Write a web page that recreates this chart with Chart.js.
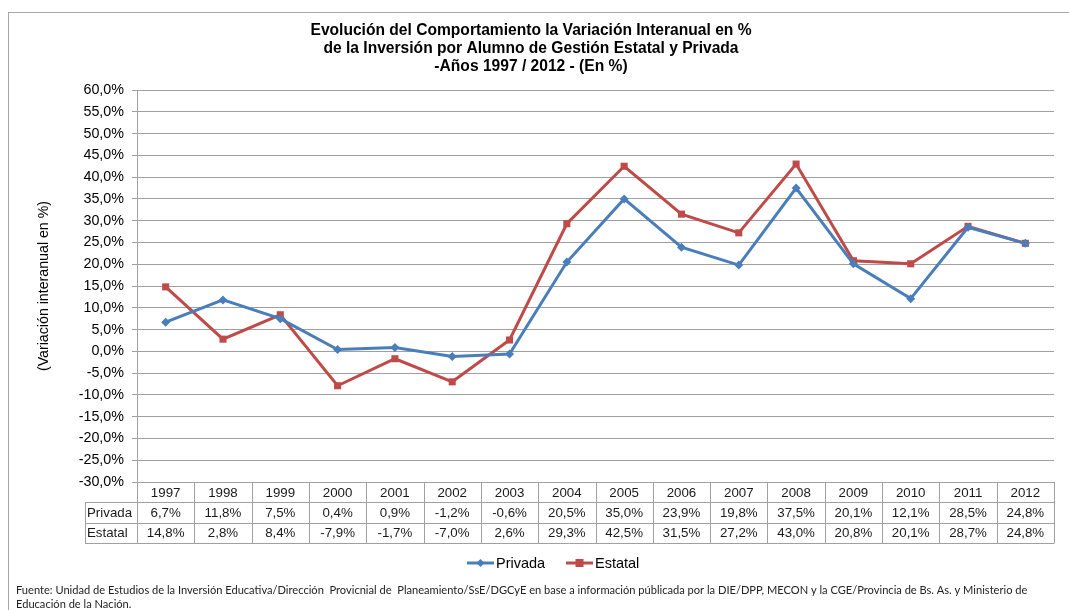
<!DOCTYPE html>
<html>
<head>
<meta charset="utf-8">
<script src="https://cdn.jsdelivr.net/npm/chart.js@4/dist/chart.umd.min.js"></script>
<style>
  html, body { margin: 0; padding: 0; background: #fff; }
  #wrap { position: absolute; left: 0; top: 0; width: 1069px; height: 610px; }
  #frame { position: absolute; left: 8px; top: 12px; width: 1080px; height: 620px; border: 1px solid #a6a6a6; box-sizing: border-box; }
</style>
</head>
<body>
<div id="wrap">
  <div id="frame"></div>
  <canvas id="c" width="1069" height="610" style="position:absolute;left:0;top:0;"></canvas>
</div>
<script>
const years = ['1997','1998','1999','2000','2001','2002','2003','2004','2005','2006','2007','2008','2009','2010','2011','2012'];
const privada = [6.7, 11.8, 7.5, 0.4, 0.9, -1.2, -0.6, 20.5, 35.0, 23.9, 19.8, 37.5, 20.1, 12.1, 28.5, 24.8];
const estatal = [14.8, 2.8, 8.4, -7.9, -1.7, -7.0, 2.6, 29.3, 42.5, 31.5, 27.2, 43.0, 20.8, 20.1, 28.7, 24.8];
const seriesNames = ['Privada', 'Estatal'];
const titleLines = [
  'Evolución del Comportamiento la Variación Interanual en %',
  'de la Inversión por Alumno de Gestión Estatal y Privada',
  '-Años 1997 / 2012 - (En %)'
];
const yTitle = '(Variación interanual en %)';
const footLines = [
  'Fuente: Unidad de Estudios de la Inversión Educativa/Dirección  Provicnial de  Planeamiento/SsE/DGCyE en base a información públicada por la DIE/DPP, MECON y la CGE/Provincia de Bs. As. y Ministerio de',
  'Educación de la Nación.'
];

const BLUE = '#4A7EBB';
const RED = '#BE4B48';
const GRID = '#a0a0a0';
const FONT = '"Liberation Sans", Arial, sans-serif';

function fmt(v) { return v.toFixed(1).replace('.', ',') + '%'; }

const tablePlugin = {
  id: 'tablePlugin',
  afterDraw(chart) {
    const ctx = chart.ctx;
    const xs = chart.scales.x;
    const area = chart.chartArea;
    const n = years.length;
    const cw = (area.right - area.left) / n;
    const top = area.bottom;
    const rh = 20.3;
    const labelLeft = 85;
    ctx.save();
    ctx.strokeStyle = GRID;
    ctx.lineWidth = 1;
    const hl = (y, x0) => { ctx.beginPath(); ctx.moveTo(x0, Math.round(y) + 0.5); ctx.lineTo(area.right, Math.round(y) + 0.5); ctx.stroke(); };
    hl(top + rh, labelLeft);
    hl(top + 2 * rh, labelLeft);
    hl(top + 3 * rh, labelLeft);
    for (let i = 0; i <= n; i++) {
      const x = Math.round(area.left + i * cw) + 0.5;
      ctx.beginPath(); ctx.moveTo(x, top); ctx.lineTo(x, Math.round(top + 3 * rh) + 0.5); ctx.stroke();
    }
    ctx.beginPath(); ctx.moveTo(labelLeft + 0.5, Math.round(top + rh)); ctx.lineTo(labelLeft + 0.5, Math.round(top + 3 * rh) + 0.5); ctx.stroke();
    ctx.fillStyle = '#1a1a1a';
    ctx.font = '13.3px ' + FONT;
    ctx.textBaseline = 'middle';
    ctx.textAlign = 'center';
    for (let i = 0; i < n; i++) {
      const cx = xs.getPixelForValue(i);
      ctx.fillText(years[i], cx, top + rh * 0.5 + 1);
      ctx.fillText(fmt(privada[i]), cx, top + rh * 1.5 + 1);
      ctx.fillText(fmt(estatal[i]), cx, top + rh * 2.5 + 1);
    }
    ctx.textAlign = 'left';
    ctx.fillText(seriesNames[0], labelLeft + 2, top + rh * 1.5 + 1);
    ctx.fillText(seriesNames[1], labelLeft + 2, top + rh * 2.5 + 1);

    // legend
    ctx.font = '14.5px ' + FONT;
    const ly = 563;
    const items = [
      { name: seriesNames[0], color: BLUE, shape: 'diamond', x: 467 },
      { name: seriesNames[1], color: RED, shape: 'square', x: 566 }
    ];
    items.forEach(it => {
      ctx.strokeStyle = it.color;
      ctx.lineWidth = 3;
      ctx.beginPath(); ctx.moveTo(it.x, ly); ctx.lineTo(it.x + 27, ly); ctx.stroke();
      ctx.fillStyle = it.color;
      const mx = it.x + 13.5;
      if (it.shape === 'diamond') {
        ctx.beginPath(); ctx.moveTo(mx, ly - 4); ctx.lineTo(mx + 4, ly); ctx.lineTo(mx, ly + 4); ctx.lineTo(mx - 4, ly); ctx.closePath(); ctx.fill();
      } else {
        ctx.fillRect(mx - 4, ly - 4, 8, 8);
      }
      ctx.fillStyle = '#000';
      ctx.fillText(it.name, it.x + 29, ly + 1);
    });

    // footnote
    ctx.font = '11.1px Lato, "Open Sans", sans-serif';
    ctx.fillStyle = '#222';
    ctx.textBaseline = 'middle';
    ctx.fillText(footLines[0], 16, 590);
    ctx.fillText(footLines[1], 16, 604);
    ctx.restore();
  }
};

new Chart(document.getElementById('c'), {
  type: 'line',
  data: {
    labels: years,
    datasets: [
      {
        label: seriesNames[0], data: privada,
        borderColor: BLUE, backgroundColor: BLUE, borderWidth: 3,
        pointStyle: 'rectRot', pointRadius: 4.5, pointBorderWidth: 0,
        pointBackgroundColor: BLUE, tension: 0
      },
      {
        label: seriesNames[1], data: estatal,
        borderColor: RED, backgroundColor: RED, borderWidth: 3,
        pointStyle: 'rect', pointRadius: 5, pointBorderWidth: 0,
        pointBackgroundColor: RED, tension: 0
      }
    ]
  },
  options: {
    responsive: false,
    animation: false,
    devicePixelRatio: 1,
    layout: { padding: { left: 8, right: 15, top: 0, bottom: 67 } },
    plugins: {
      legend: { display: false },
      tooltip: { enabled: false },
      title: {
        display: true,
        text: titleLines,
        color: '#000',
        font: { family: FONT, size: 15.6, weight: 'bold', lineHeight: 1.154 },
        padding: { top: 22, bottom: 14 }
      }
    },
    scales: {
      x: {
        type: 'category',
        offset: true,
        grid: { display: false },
        border: { display: false },
        ticks: { display: false },
        afterFit(s) { s.height = 61; }
      },
      y: {
        min: -30, max: 60,
        ticks: {
          stepSize: 5,
          color: '#000',
          font: { family: FONT, size: 14.3 },
          padding: 8,
          callback: v => fmt(v)
        },
        grid: { color: GRID, lineWidth: 1, tickLength: 5, drawTicks: true },
        border: { display: true, color: GRID, width: 1 },
        title: {
          display: true,
          text: yTitle,
          color: '#000',
          font: { family: FONT, size: 14.2 },
          padding: { top: 28, bottom: 0 }
        },
        afterFit(s) { s.width = 129; }
      }
    }
  },
  plugins: [tablePlugin]
});
</script>
</body>
</html>
